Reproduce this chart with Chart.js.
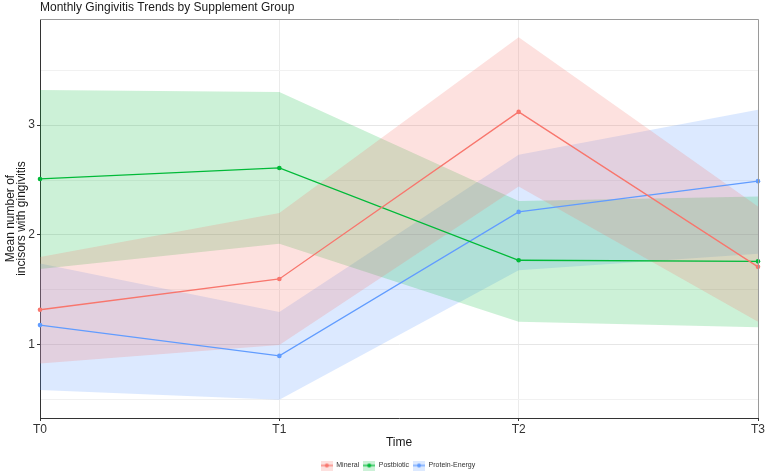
<!DOCTYPE html>
<html>
<head>
<meta charset="utf-8">
<script src="https://cdn.jsdelivr.net/npm/chart.js@4"></script>
<style>
  body { margin: 0; background: #fff; }
  #wrap { width: 767px; height: 473px; }
</style>
</head>
<body>
<div id="wrap"><canvas id="myChart"></canvas></div>
<script>
// data
var times = ['T0', 'T1', 'T2', 'T3'];
var groups = ['Mineral', 'Postbiotic', 'Protein-Energy'];

var mineralMean = [1.32, 1.60, 3.12, 1.71];
var mineralLower = [0.83, 1.00, 2.44, 1.21];
var mineralUpper = [1.80, 2.20, 3.80, 2.26];

var postbioticMean = [2.51, 2.61, 1.77, 1.76];
var postbioticLower = [1.69, 1.92, 1.21, 1.16];
var postbioticUpper = [3.32, 3.30, 2.31, 2.35];

var proteinMean = [1.18, 0.90, 2.21, 2.49];
var proteinLower = [0.59, 0.50, 1.68, 1.83];
var proteinUpper = [1.74, 1.30, 2.73, 3.14];

var yTicks = [1, 2, 3];
var yMinorTicks = [0.5, 1.5, 2.5, 3.5];

var colors = ['#F8766D', '#00BA38', '#619CFF'];
var fills = ['rgba(248,118,109,0.22)', 'rgba(0,186,56,0.2)', 'rgba(97,156,255,0.22)'];

var means = [mineralMean, postbioticMean, proteinMean];
var lowers = [mineralLower, postbioticLower, proteinLower];
var uppers = [mineralUpper, postbioticUpper, proteinUpper];

var fontFam = '"Liberation Sans", Arial, sans-serif';

// small legend keys: ribbon fill + line + point
function makeKey(i) {
    var c = document.createElement('canvas');
    c.width = 12; c.height = 10;
    var g = c.getContext('2d');
    g.fillStyle = fills[i];
    g.fillRect(0, 0, 12, 10);
    g.strokeStyle = colors[i];
    g.lineWidth = 1.2;
    g.beginPath(); g.moveTo(0, 5); g.lineTo(12, 5); g.stroke();
    g.fillStyle = colors[i];
    g.beginPath(); g.arc(6, 5, 2, 0, Math.PI * 2); g.fill();
    return c;
}
var keys = groups.map(function (n, i) { return makeKey(i); });

var datasets = [];
groups.forEach(function (name, i) {
    datasets.push({
        label: name + ' lower', data: lowers[i], band: true,
        borderColor: 'transparent', borderWidth: 0, pointRadius: 0, fill: false
    });
    datasets.push({
        label: name + ' upper', data: uppers[i], band: true,
        borderColor: 'transparent', borderWidth: 0, pointRadius: 0,
        fill: '-1', backgroundColor: fills[i]
    });
});
groups.forEach(function (name, i) {
    datasets.push({
        label: name, data: means[i], group: i,
        borderColor: colors[i], backgroundColor: colors[i],
        borderWidth: 1.3, pointRadius: 2.3, pointBorderWidth: 0,
        pointStyle: 'circle', fill: false, tension: 0
    });
});

var panelTitle = {
    id: 'panelTitle',
    beforeUpdate: function (chart) {
        // keep the legend strip short, like the reference
        var lg = chart.legend;
        if (lg && !lg._fitPatched) {
            var fit = lg.fit;
            lg.fit = function () { fit.call(this); this.height = 15; };
            lg._fitPatched = true;
        }
    },
    afterLayout: function (chart) {
        // centre the legend under the panel rather than the canvas
        if (chart.legend) chart.legend.left = chart.chartArea.left - 2;
    },
    afterDraw: function (chart) {
        var a = chart.chartArea, g = chart.ctx;
        g.save();
        // panel border top/right
        g.strokeStyle = '#9a9a9a';
        g.lineWidth = 1;
        g.beginPath();
        g.moveTo(a.left, a.top + 0.5); g.lineTo(a.right + 0.5, a.top + 0.5); g.lineTo(a.right + 0.5, a.bottom);
        g.stroke();
        g.fillStyle = '#1a1a1a';
        g.font = '12px ' + fontFam;
        g.textBaseline = 'middle';
        g.fillText('Monthly Gingivitis Trends by Supplement Group', a.left, 8);
        g.restore();
    }
};

var ctx = document.getElementById('myChart').getContext('2d');

var myChart = new Chart(ctx, {
    type: 'line',
    data: { labels: times, datasets: datasets },
    plugins: [panelTitle],
    options: {
        responsive: true,
        maintainAspectRatio: false,
        animation: false,
        layout: { padding: { top: 19, right: 9, left: 0, bottom: 0 } },
        plugins: {
            filler: { drawTime: 'beforeDatasetsDraw' },
            tooltip: { enabled: false },
            legend: {
                position: 'bottom',
                labels: {
                    generateLabels: function (chart) {
                        var items = Chart.defaults.plugins.legend.labels.generateLabels(chart);
                        return items.filter(function (it) {
                            return !chart.data.datasets[it.datasetIndex].band;
                        }).map(function (it) {
                            it.pointStyle = keys[chart.data.datasets[it.datasetIndex].group];
                            return it;
                        });
                    },
                    usePointStyle: true,
                    pointStyleWidth: 12,
                    padding: 4,
                    color: '#333',
                    font: { family: fontFam, size: 7 }
                }
            }
        },
        scales: {
            x: {
                offset: false,
                afterFit: function (s) { s.height = 40; },
                grid: { color: '#EBEBEB', tickColor: '#333', tickLength: 3 },
                border: { display: true, color: '#333', width: 1 },
                ticks: { color: '#333', padding: 1, font: { family: fontFam, size: 12 } },
                title: { display: true, text: 'Time', color: '#1a1a1a', padding: { top: 0, bottom: 8 },
                    font: { family: fontFam, size: 12 } }
            },
            y: {
                min: 0.335,
                max: 3.965,
                afterFit: function (s) { s.width = 40; },
                afterBuildTicks: function (s) {
                    s.ticks = yTicks.concat(yMinorTicks).sort(function (a, b) { return a - b; })
                        .map(function (v) { return { value: v }; });
                },
                grid: {
                    color: function (c) { return c.tick && yTicks.indexOf(c.tick.value) >= 0 ? '#E6E6E6' : '#F1F1F1'; },
                    tickColor: function (c) { return c.tick && yTicks.indexOf(c.tick.value) >= 0 ? '#333' : 'transparent'; },
                    tickLength: 3
                },
                border: { display: true, color: '#333', width: 1 },
                ticks: {
                    color: '#333', padding: 2,
                    font: { family: fontFam, size: 12 },
                    callback: function (v) { return yTicks.indexOf(v) >= 0 ? v : ''; }
                },
                title: { display: true, text: ['Mean number of', 'incisors with gingivitis'], color: '#1a1a1a',
                    padding: { top: 5, bottom: 0 }, font: { family: fontFam, size: 12, lineHeight: 0.95 } }
            }
        }
    }
});
</script>
</body>
</html>
